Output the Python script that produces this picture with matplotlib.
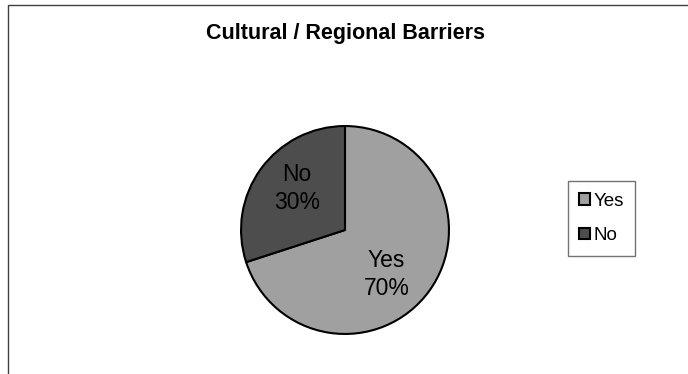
import matplotlib
matplotlib.use('Agg')
import matplotlib.pyplot as plt
from matplotlib.patches import Rectangle

plt.rcParams['font.family'] = ['Liberation Sans', 'DejaVu Sans']

labels = ['Yes', 'No']
shares = [70, 30]
colors = ['#a0a0a0', '#4d4d4d']
title = 'Cultural / Regional Barriers'

W, H = 688, 374
fig = plt.figure(figsize=(W / 100, H / 100), dpi=100)

# outer chart frame (runs off right and bottom edges)
fig.patches.append(Rectangle((8 / W, -0.1), 1.1, 1 - 5 / H + 0.1,
                             transform=fig.transFigure, fill=False,
                             edgecolor='#404040', linewidth=1.0))

cx, cy, r = 345, 230, 105
ax = fig.add_axes([(cx - r) / W, (H - cy - r) / H, 2 * r / W, 2 * r / H])
wedges, texts = ax.pie(shares, labels=[f'{l}\n{s}%' for l, s in zip(labels, shares)],
                       colors=colors, startangle=90, counterclock=False,
                       labeldistance=0.6,
                       wedgeprops=dict(edgecolor='black', linewidth=1.5),
                       textprops=dict(fontsize=16.5, ha='center', va='center',
                                      linespacing=1.25))
# Excel-like label placement inside the slices
texts[0].set_position((0.40, -0.43))
texts[1].set_position((-0.46, 0.40))
ax.set_xlim(-1.01, 1.01)
ax.set_ylim(-1.01, 1.01)
ax.set_aspect('equal')
ax.axis('off')

fig.text(cx / W, 1 - 33 / H, title, ha='center', va='center',
         fontsize=15.5, fontweight='bold')

leg = fig.legend(wedges, labels, loc='center', bbox_to_anchor=(601.5 / W, 1 - 218.5 / H),
                 fontsize=13.5, handlelength=0.55, handleheight=0.55, handletextpad=0.2,
                 labelspacing=0.95, borderpad=0.6, borderaxespad=0,
                 fancybox=False, frameon=True)
leg.get_frame().set_edgecolor('#505050')
leg.get_frame().set_linewidth(1.0)
for p in leg.get_patches():
    p.set_edgecolor('black')
    p.set_linewidth(1.5)

fig.savefig('out.png', dpi=100)
